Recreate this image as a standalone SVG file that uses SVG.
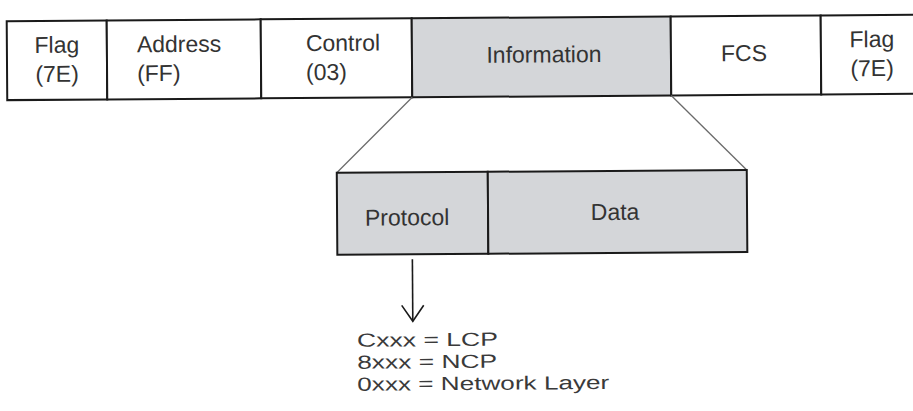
<svg xmlns="http://www.w3.org/2000/svg" width="913" height="411" viewBox="0 0 913 411">
<defs>
<style>
.cell{stroke:#1a1a1a;stroke-width:2;fill:#ffffff}
.gray{fill:#d4d6d9}
.t{font-family:"Liberation Sans",Arial,sans-serif;font-size:23px;fill:#333333}
.m{text-anchor:middle}
.leg{font-family:"Liberation Sans",Arial,sans-serif;font-size:19px;fill:#3a3a3a}
.conn{stroke:#6a6a6a;stroke-width:1.3;fill:none}
.arr{stroke:#1a1a1a;stroke-width:1.6;fill:none}
</style>
</defs>
<rect width="913" height="411" fill="#ffffff"/>
<g transform="rotate(-0.4 456 205)">
<g id="flag1">
<rect class="cell" x="8" y="18" width="100" height="79"/>
<text class="t m" x="58" y="50">Flag</text>
<text class="t m" x="58" y="79">(7E)</text>
</g>
<g id="address">
<rect class="cell" x="108" y="18" width="154" height="79"/>
<text class="t" x="138" y="50">Address</text>
<text class="t" x="138" y="79">(FF)</text>
</g>
<g id="control">
<rect class="cell" x="262" y="18" width="151" height="79"/>
<text class="t" x="307" y="50">Control</text>
<text class="t" x="307" y="79">(03)</text>
</g>
<g id="information">
<rect class="cell gray" x="413" y="18" width="259" height="79"/>
<text class="t m" x="545" y="63">Information</text>
</g>
<g id="fcs">
<rect class="cell" x="672" y="18" width="150" height="79"/>
<text class="t m" x="745" y="63">FCS</text>
</g>
<g id="flag2">
<rect class="cell" x="822" y="18" width="100" height="79"/>
<text class="t m" x="873" y="50">Flag</text>
<text class="t m" x="873" y="79">(7E)</text>
</g>
<g id="connectors">
<line class="conn" x1="413" y1="97" x2="337" y2="172"/>
<line class="conn" x1="672" y1="97" x2="747" y2="172"/>
<line class="arr" x1="412" y1="259" x2="412" y2="321"/>
<polyline class="arr" points="401,305 412,321 423,305"/>
</g>
<g id="protocol">
<rect class="cell gray" x="337" y="172" width="151" height="82"/>
<text class="t m" x="407" y="225">Protocol</text>
</g>
<g id="data">
<rect class="cell gray" x="488" y="172" width="259" height="82"/>
<text class="t m" x="615" y="221">Data</text>
</g>
<g id="legend">
<text class="leg" x="356" y="346" textLength="141" lengthAdjust="spacingAndGlyphs">Cxxx = LCP</text>
<text class="leg" x="356" y="368" textLength="140" lengthAdjust="spacingAndGlyphs">8xxx = NCP</text>
<text class="leg" x="356" y="390" textLength="252" lengthAdjust="spacingAndGlyphs">0xxx = Network Layer</text>
</g>
</g>
</svg>
